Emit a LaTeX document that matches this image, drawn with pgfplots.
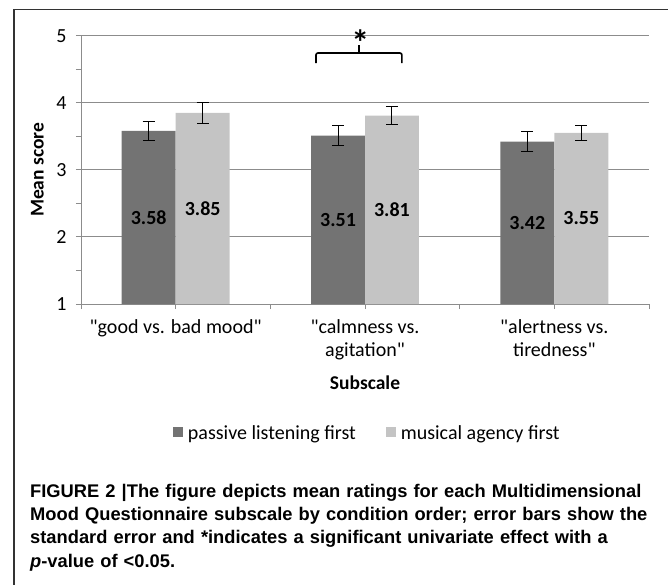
\documentclass[border=0pt]{standalone}
\usepackage{fontspec}
\setmainfont{Carlito}
\newfontfamily\carl{Carlito}
\newfontfamily\capfont{Liberation Sans}
\newcommand\q{{\carl"}}
\usepackage{pgfplots}
\pgfplotsset{compat=1.18}
\definecolor{barDark}{HTML}{737373}
\definecolor{barLight}{HTML}{C4C4C4}
\definecolor{axGray}{HTML}{8C8C8C}
\begin{document}
\begin{tikzpicture}[x=1pt,y=1pt]
\useasboundingbox (0pt,0pt) rectangle (668pt,-585pt);
\draw[line width=1.3pt, black!80] (14pt,-600pt) -- (14pt,-9.5pt) -- (680pt,-9.5pt);
\begin{axis}[
  at={(81pt,-304pt)}, anchor=south west,
  scale only axis, width=568pt, height=268.3pt,
  xmin=-0.5, xmax=2.5, ymin=1, ymax=5,
  axis x line*=bottom, axis y line*=left,
  axis line style={draw=axGray, line width=0.9pt, -},
  ytick={1,2,3,4,5}, minor ytick={1.5,2.5,3.5,4.5},
  ymajorgrids, major grid style={axGray, line width=0.9pt},
  tick align=outside, major tick length=5pt, minor tick length=5pt,
  every tick/.style={axGray, line width=0.9pt},
  xtick={-0.5,0,0.5,1,1.5,2,2.5},
  xticklabels={,{\q good vs. bad mood\q},,{\q calmness vs.\\agitation\q},,{\q alertness vs.\\tiredness\q},},
  x tick label style={align=center, font=\fontsize{20}{23}\selectfont, yshift=-7pt},
  y tick label style={font=\fontsize{20}{24}\selectfont, xshift=-6pt},
  /pgf/number format/assume math mode=true,
  xlabel={\bfseries Subscale}, xlabel style={font=\fontsize{19.5}{23}\selectfont, at={(axis description cs:0.5,-0.294)}, anchor=center},
  ylabel={\bfseries Mean score}, ylabel style={font=\fontsize{19.5}{23}\selectfont, at={(axis description cs:-0.077,0.5)}, anchor=center},
  legend columns=2,
  legend style={draw=none, fill=none, at={(0.504,-0.481)}, anchor=center, font=\fontsize{20}{23}\selectfont,
    /tikz/every odd column/.append style={column sep=3pt},
    /tikz/every even column/.append style={column sep=28pt}},
  legend image code/.code={\draw[#1, draw=none] (0pt,-4pt) rectangle (10pt,6pt);},
  clip=false,
]
\addplot[ybar, bar width=0.285, bar shift=0pt, fill=barDark, draw=none,
  error bars/.cd, y dir=both, y explicit,
  error bar style={black, line width=1pt},
  error mark options={rotate=90, mark size=6pt, black, line width=1pt}]
  coordinates {(-0.1425,3.58) +- (0,0.14) (0.8575,3.51) +- (0,0.145) (1.8575,3.42) +- (0,0.145)};
\addlegendentry{passive listening first}
\addplot[ybar, bar width=0.285, bar shift=0pt, fill=barLight, draw=none,
  error bars/.cd, y dir=both, y explicit,
  error bar style={black, line width=1pt},
  error mark options={rotate=90, mark size=6pt, black, line width=1pt}]
  coordinates {(0.1425,3.85) +- (0,0.155) (1.1425,3.81) +- (0,0.135) (2.1425,3.55) +- (0,0.11)};
\addlegendentry{musical agency first}
\addplot[draw=none, forget plot, nodes near coords, point meta=explicit symbolic,
  every node near coord/.style={anchor=center, font=\bfseries\fontsize{20}{24}\selectfont, black}]
  coordinates {(-0.1425,2.29)[3.58] (0.1425,2.425)[3.85] (0.8575,2.255)[3.51] (1.1425,2.405)[3.81] (1.8575,2.21)[3.42] (2.1425,2.275)[3.55]};
\draw[line width=1.6pt, rounded corners=2pt] (axis cs:0.741,4.593) -- (axis cs:0.741,4.742) -- (axis cs:1.195,4.742) -- (axis cs:1.195,4.593);
\draw[line width=1.6pt] (axis cs:0.968,4.742) -- (axis cs:0.968,4.86);
\node[font=\bfseries\fontsize{36}{36}\selectfont, anchor=center, inner sep=0] at (axis cs:0.975,4.90) {*};
\end{axis}
\node[anchor=north west, inner sep=0, text width=640pt, align=left,
  font=\capfont\bfseries\fontsize{18.3}{23.2}\selectfont] at (30pt,-484pt)
  {FIGURE 2 |The figure depicts mean ratings for each Multidimensional\\
   Mood Questionnaire subscale by condition order; error bars show the\\
   standard error and *indicates a significant univariate effect with a\\
   \textit{p}-value of <0.05.};
\end{tikzpicture}
\end{document}
